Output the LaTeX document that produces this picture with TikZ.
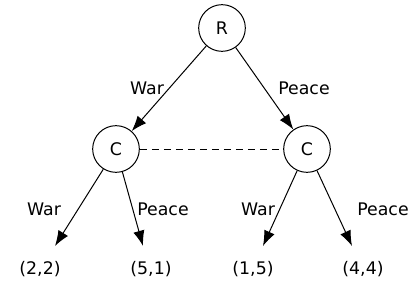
\documentclass[tikz,border=0pt]{standalone}
\usepackage{fontspec}
\setmainfont{DejaVu Sans}
\usetikzlibrary{arrows.meta}

\begin{document}
\begin{tikzpicture}[x=0.75pt,y=0.75pt,yscale=-1,xscale=1,
		player/.style={draw, circle, minimum size=35pt, inner sep=0pt, line width=0.75pt, font=\fontsize{13}{15}\selectfont},
		move/.style={-{Latex[length=11.5pt,width=8.5pt]}, line width=0.75pt},
		info/.style={dash pattern=on 5.5pt off 3.5pt, line width=0.75pt},
		txt/.style={inner sep=0.75pt, font=\fontsize{13}{15}\selectfont}]
		\useasboundingbox (0,0) rectangle (416,299);
		
		%Shape: Circle [id:root] 
		\node [player] (R) at (222,28) {R};
		%Shape: Circle [id:left] 
		\node [player] (CL) at (116,149) {C};
		%Shape: Circle [id:right] 
		\node [player] (CR) at (307,149) {C};
		
		% Payoff Nodes
		\node [txt] (p22) at (40,269) {(2,2)};
		\node [txt] (p51) at (151,269) {(5,1)};
		\node [txt] (p15) at (253,269) {(1,5)};
		\node [txt] (p44) at (363,269) {(4,4)};
		
		% Arrow Ends
		\coordinate (e22) at (55,246);
		\coordinate (e51) at (143,246);
		\coordinate (e15) at (263,246);
		\coordinate (e44) at (352,246);
		
		%Straight Lines [id:moves] 
		\draw [move] (R) -- (CL);
		\draw [move] (R) -- (CR);
		\draw [move] (CL) -- (e22);
		\draw [move] (CL) -- (e51);
		\draw [move] (CR) -- (e15);
		\draw [move] (CR) -- (e44);
		%Straight Lines [id:infoset] 
		\draw [info] (CL) -- (CR);
		
		% Text Node
		\node [txt] (lRL) at (147,88) {War};
		% Text Node
		\node [txt] (lRR) at (304,88) {Peace};
		% Text Node
		\node [txt] (lL1) at (44,209) {War};
		% Text Node
		\node [txt] (lL2) at (163,209) {Peace};
		% Text Node
		\node [txt] (lR1) at (258,209) {War};
		% Text Node
		\node [txt] (lR2) at (383,209) {Peace};
		
\end{tikzpicture}
\end{document}
